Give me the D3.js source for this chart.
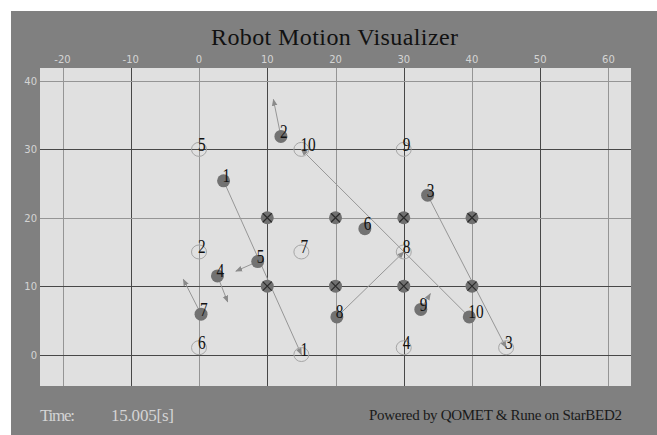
<!DOCTYPE html>
<html>
<head>
<meta charset="utf-8">
<script src="https://cdn.jsdelivr.net/npm/d3@7"></script>
<style>
  body { margin: 0; background: #fff; }
  svg text { font-family: "Liberation Serif", serif; }
</style>
</head>
<body>
<script>
let width = 657,
  height = 435;

// robots: current position, goal, and short heading arrow (if any)
const robotIds = [1, 2, 3, 4, 5, 6, 7, 8, 9, 10];
const robotX = [3.6, 12.0, 33.5, 2.7, 8.6, 24.3, 0.3, 20.2, 32.5, 39.6];
const robotY = [25.4, 31.9, 23.3, 11.5, 13.6, 18.4, 5.9, 5.5, 6.6, 5.5];
const goalX = [15, 0, 45, 30, 0, 0, 15, 30, 30, 15];
const goalY = [0, 15, 1, 1, 30, 1, 15, 15, 30, 30];
const headX = [null, 10.9, null, 4.2, 5.4, null, -2.3, null, 33.9, null];
const headY = [null, 37.3, null, 7.7, 12.2, null, 11.0, null, 8.9, null];
const routeIds = [1, 3, 8, 10];

const obstacleX = [10, 20, 30, 40, 10, 20, 30, 40];
const obstacleY = [20, 20, 20, 20, 10, 10, 10, 10];

const xTicks = [-20, -10, 0, 10, 20, 30, 40, 50, 60];
const yTicks = [0, 10, 20, 30, 40];
const timeLabel = "15.005[s]";

let plot = { left: 40, top: 68, right: 631, bottom: 386 };

let x = d3.scaleLinear().domain([-23.3, 63.3]).range([plot.left, plot.right]);
let y = d3.scaleLinear().domain([-4.6, 41.9]).range([plot.bottom, plot.top]);

let svg = d3.select("body").append("svg")
  .attr("width", width)
  .attr("height", height);

let defs = svg.append("defs");
defs.append("marker")
  .attr("id", "head")
  .attr("viewBox", "0 0 10 10")
  .attr("refX", 9).attr("refY", 5)
  .attr("markerWidth", 7).attr("markerHeight", 7)
  .attr("markerUnits", "userSpaceOnUse")
  .attr("orient", "auto")
  .append("path")
  .attr("d", "M0,1L10,5L0,9Z")
  .attr("fill", "#8a8a8a");

svg.append("rect")
  .attr("x", 11).attr("y", 11)
  .attr("width", width - 11).attr("height", height - 11)
  .attr("fill", "#808080");

svg.append("rect")
  .attr("x", plot.left).attr("y", plot.top)
  .attr("width", plot.right - plot.left).attr("height", plot.bottom - plot.top)
  .attr("fill", "#e0e0e0");

// grid
let gridColor = function(v) { return v % 20 === 0 ? "#959595" : "#474747"; };

svg.selectAll(".vgrid")
  .data(xTicks)
  .enter().append("line")
  .attr("class", "vgrid")
  .attr("x1", d => Math.round(x(d)) + 0.5).attr("x2", d => Math.round(x(d)) + 0.5)
  .attr("y1", plot.top).attr("y2", plot.bottom)
  .attr("stroke", gridColor);

svg.selectAll(".hgrid")
  .data(yTicks)
  .enter().append("line")
  .attr("class", "hgrid")
  .attr("y1", d => Math.round(y(d)) + 0.5).attr("y2", d => Math.round(y(d)) + 0.5)
  .attr("x1", plot.left).attr("x2", plot.right)
  .attr("stroke", d => (d === 20 || d === 40) ? "#959595" : "#474747");

// tick labels
svg.selectAll(".xlab")
  .data(xTicks)
  .enter().append("text")
  .attr("x", d => x(d)).attr("y", 63)
  .attr("text-anchor", "middle")
  .attr("fill", "#d4d4d4")
  .style("font-family", "'DejaVu Sans', sans-serif")
  .style("font-size", "10px")
  .text(d => d);

svg.selectAll(".ylab")
  .data(yTicks)
  .enter().append("text")
  .attr("x", 37).attr("y", d => y(d) + 4)
  .attr("text-anchor", "end")
  .attr("fill", "#d4d4d4")
  .style("font-family", "'DejaVu Sans', sans-serif")
  .style("font-size", "10px")
  .text(d => d);

// title
svg.append("text")
  .attr("x", 211).attr("y", 45)
  .attr("textLength", 247).attr("lengthAdjust", "spacing")
  .attr("fill", "#111")
  .style("font-size", "24px")
  .text("Robot Motion Visualizer");

let robots = robotIds.map((id, i) => ({
  id: id, x: robotX[i], y: robotY[i],
  gx: goalX[i], gy: goalY[i],
  hx: headX[i], hy: headY[i]
}));

// route lines to goal
svg.selectAll(".route")
  .data(robots.filter(d => routeIds.includes(d.id)))
  .enter().append("line")
  .attr("x1", d => x(d.x)).attr("y1", d => y(d.y))
  .attr("x2", d => x(d.gx)).attr("y2", d => y(d.gy))
  .attr("stroke", "#969696")
  .attr("stroke-width", 1)
  .attr("marker-end", "url(#head)");

// heading arrows
svg.selectAll(".heading")
  .data(robots.filter(d => d.hx !== null))
  .enter().append("line")
  .attr("x1", d => x(d.x)).attr("y1", d => y(d.y))
  .attr("x2", d => x(d.hx)).attr("y2", d => y(d.hy))
  .attr("stroke", "#969696")
  .attr("stroke-width", 1)
  .attr("marker-end", "url(#head)");

// goals
svg.selectAll(".goal")
  .data(robots)
  .enter().append("ellipse")
  .attr("cx", d => x(d.gx)).attr("cy", d => y(d.gy))
  .attr("rx", 7.5).attr("ry", 7)
  .attr("fill", "none")
  .attr("stroke", "#a6a6a6");

// obstacles
let obs = svg.selectAll(".obs")
  .data(obstacleX.map((v, i) => ({ x: v, y: obstacleY[i] })))
  .enter().append("g")
  .attr("transform", d => "translate(" + x(d.x) + "," + y(d.y) + ")");

obs.append("circle").attr("r", 6.5).attr("fill", "#707070");
obs.append("path")
  .attr("d", "M-4.5,-4.5L4.5,4.5M-4.5,4.5L4.5,-4.5")
  .attr("stroke", "#2a2a2a")
  .attr("stroke-width", 1.2);

// robots
svg.selectAll(".robot")
  .data(robots)
  .enter().append("circle")
  .attr("cx", d => x(d.x)).attr("cy", d => y(d.y))
  .attr("r", 6.5)
  .attr("fill", "#727272");

// labels (tall, narrow digits)
function label(sel, fx, fy) {
  sel.append("text")
    .attr("transform", d => "translate(" + (fx(d) - 1) + "," + (fy(d) + 1.5) + ") scale(0.85,1)")
    .attr("fill", "#111")
    .style("font-size", "18px")
    .text(d => d.id);
}

let glab = svg.selectAll(".glab").data(robots).enter().append("g");
label(glab, d => x(d.gx), d => y(d.gy));

let rlab = svg.selectAll(".rlab").data(robots).enter().append("g");
label(rlab, d => x(d.x), d => y(d.y));

// footer
svg.append("text")
  .attr("x", 40).attr("y", 421)
  .attr("textLength", 35).attr("lengthAdjust", "spacing")
  .attr("fill", "#d4d4d4")
  .style("font-size", "17px")
  .text("Time:");

svg.append("text")
  .attr("x", 111).attr("y", 421)
  .attr("textLength", 63).attr("lengthAdjust", "spacing")
  .attr("fill", "#d4d4d4")
  .style("font-size", "17px")
  .text(timeLabel);

svg.append("text")
  .attr("x", 369).attr("y", 420)
  .attr("textLength", 253).attr("lengthAdjust", "spacing")
  .attr("fill", "#1a1a1a")
  .style("font-size", "15px")
  .text("Powered by QOMET & Rune on StarBED2");
</script>
</body>
</html>
